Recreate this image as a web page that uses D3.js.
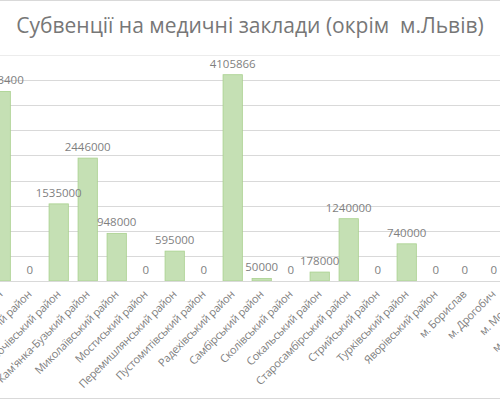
<!DOCTYPE html>
<html>
<head>
<meta charset="utf-8">
<script src="https://cdn.jsdelivr.net/npm/d3@7"></script>
<style>
  body { margin: 0; background: #fff; }
  text { font-family: "Open Sans", sans-serif; }
</style>
</head>
<body>
<svg id="chart" width="500" height="400"></svg>
<script>
// categories (chart is cropped on both sides, as in the source picture)
var categories = [
  "Жидачівський район", "Жовківський район", "Золочівський район",
  "Кам'янка-Бузький район", "Миколаївський район", "Мостиський район",
  "Перемишлянський район", "Пустомитівський район", "Радехівський район",
  "Самбірський район", "Сколівський район", "Сокальський район",
  "Старосамбірський район", "Стрийський район", "Турківський район",
  "Яворівський район", "м. Борислав", "м. Дрогобич", "м. Моршин",
  "м. Новий Розділ"
];
// values; null = not visible in the picture
var values = [
  3773400, 0, 1535000,
  2446000, 948000, 0,
  595000, 0, 4105866,
  50000, 0, 178000,
  1240000, 0, 740000,
  0, 0, 0, null,
  null
];
var yTicks = [0, 500000, 1000000, 1500000, 2000000, 2500000, 3000000, 3500000, 4000000, 4500000];
var title = "Субвенції на медичні заклади (окрім  м.Львів)";

var data = categories.map(function (c, i) { return { name: c, value: values[i] }; });

var svg = d3.select("#chart");
var width = +svg.attr("width"), height = +svg.attr("height");

// outer chart border (only top and bottom show in the crop)
svg.append("line").attr("x1", 0).attr("x2", width).attr("y1", 0.5).attr("y2", 0.5)
  .attr("stroke", "#d9d9d9");
svg.append("line").attr("x1", 0).attr("x2", width).attr("y1", 398.5).attr("y2", 398.5)
  .attr("stroke", "#d9d9d9");

var x = d3.scaleBand()
  .domain(categories)
  .range([-13.8, -13.8 + 29 * categories.length])
  .paddingInner(0.335)
  .paddingOuter(0.1675);

var y = d3.scaleLinear()
  .domain([0, 4500000])
  .range([281, 54.9]);

// gridlines
svg.append("g")
  .selectAll("line")
  .data(yTicks.slice(1))
  .enter()
  .append("line")
  .attr("x1", 0).attr("x2", width)
  .attr("y1", function (d) { return Math.round(y(d)) + 0.5; })
  .attr("y2", function (d) { return Math.round(y(d)) + 0.5; })
  .attr("stroke", function (d) { return d === 4500000 ? "#ececec" : "#d9d9d9"; })
  .attr("stroke-width", 1);

// bars
var shown = data.filter(function (d) { return d.value !== null; });
svg.append("g")
  .selectAll("rect")
  .data(shown)
  .enter()
  .append("rect")
  .attr("x", function (d) { return x(d.name); })
  .attr("width", x.bandwidth())
  .attr("y", function (d) { return y(d.value); })
  .attr("height", function (d) { return y(0) - y(d.value); })
  .attr("fill", "#c5e0b4")
  .attr("stroke", "#a9d18e")
  .attr("stroke-width", 0.8);

// category axis
svg.append("line")
  .attr("x1", 0).attr("x2", width)
  .attr("y1", 281.5).attr("y2", 281.5)
  .attr("stroke", "#d9d9d9");

// value labels
svg.append("g")
  .selectAll("text")
  .data(shown)
  .enter()
  .append("text")
  .attr("x", function (d) { return x(d.name) + x.bandwidth() / 2; })
  .attr("y", function (d) { return y(d.value) - 7; })
  .attr("text-anchor", "middle")
  .style("font-size", "11.5px")
  .style("fill", "#7f7f7f")
  .text(function (d) { return d.value; });

// category labels rotated -45
svg.append("g")
  .selectAll("text")
  .data(categories)
  .enter()
  .append("text")
  .attr("transform", function (d) {
    return "translate(" + (x(d) + x.bandwidth() / 2 + 2.5) + ",295) rotate(-45)";
  })
  .attr("text-anchor", "end")
  .style("font-size", "11px")
  .style("letter-spacing", "-0.3px")
  .style("fill", "#7f7f7f")
  .text(function (d) { return d; });

// title
svg.append("text")
  .attr("x", width / 2)
  .attr("y", 33)
  .attr("text-anchor", "middle")
  .attr("xml:space", "preserve")
  .style("white-space", "pre")
  .style("font-size", "21px")
  .style("fill", "#777777")
  .text(title);
</script>
</body>
</html>
